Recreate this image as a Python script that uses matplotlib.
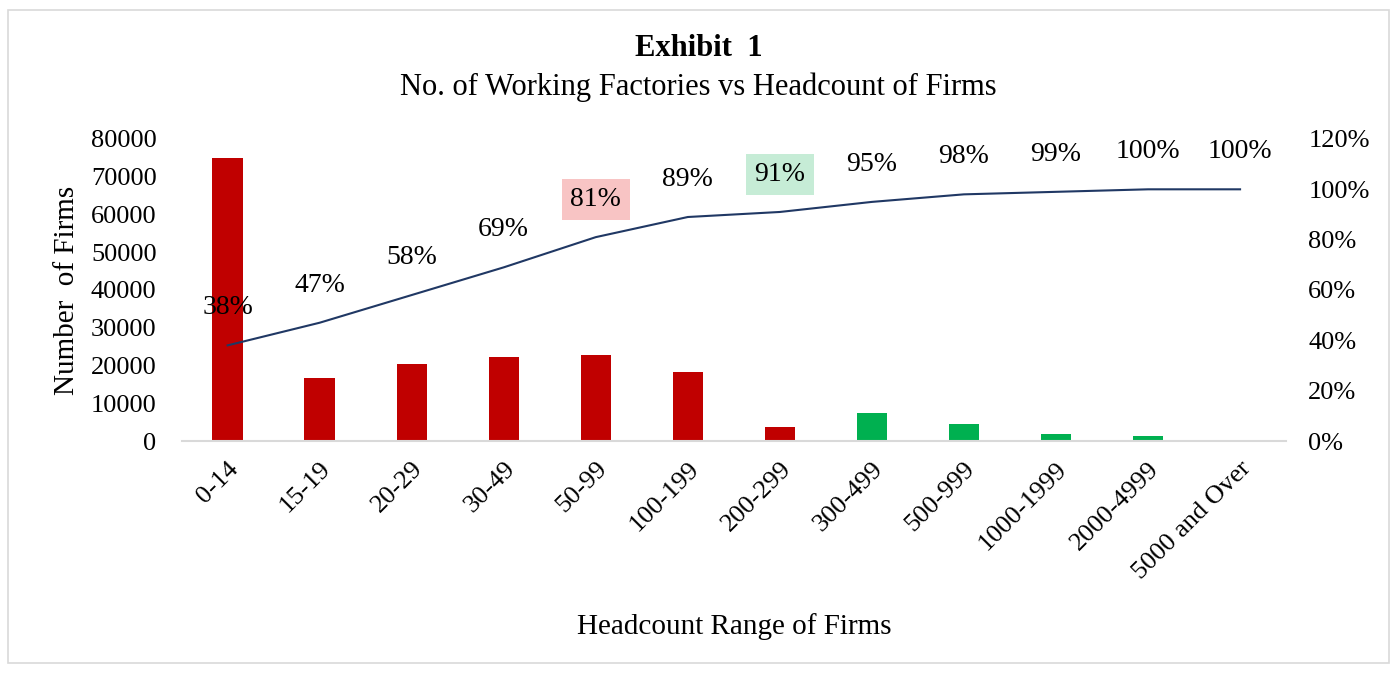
import matplotlib.pyplot as plt
from matplotlib.patches import Rectangle

categories = ['0-14', '15-19', '20-29', '30-49', '50-99', '100-199', '200-299',
              '300-499', '500-999', '1000-1999', '2000-4999', '5000 and Over']
firms = [75000, 16600, 20400, 22200, 22800, 18400, 3700, 7400, 4400, 1900, 1250, 300]
cum_pct = [38, 47, 58, 69, 81, 89, 91, 95, 98, 99, 100, 100]
bar_colors = ['#c00000'] * 7 + ['#00b050'] * 5
label_boxes = {4: '#f8c4c4', 6: '#c6ecd6'}

plt.rcParams['font.family'] = ['Liberation Serif', 'DejaVu Serif']

fig = plt.figure(figsize=(13.97, 6.73), dpi=100)
ax = fig.add_axes([0.130, 0.3447, 0.7906, 0.4488])
x = list(range(len(categories)))

ax.bar(x, firms, width=0.33, color=bar_colors)
ax.set_xlim(-0.5, len(categories) - 0.5)
ax.set_ylim(0, 80000)
ax.set_yticks(range(0, 80001, 10000))
ax.set_xticks(x)
ax.set_xticklabels(categories, rotation=45, ha='right', rotation_mode='anchor')
ax.tick_params(axis='both', length=0, labelsize=19)
ax.tick_params(axis='x', pad=12)
ax.tick_params(axis='y', pad=18)
for s in ['top', 'left', 'right']:
    ax.spines[s].set_visible(False)
ax.spines['bottom'].set_color('#d9d9d9')
ax.spines['bottom'].set_linewidth(1.5)
ax.set_ylabel('Number  of Firms', fontsize=21, labelpad=8)
ax.set_xlabel('Headcount Range of Firms', fontsize=21, labelpad=21)

ax2 = ax.twinx()
ax2.plot(x, [v / 100 for v in cum_pct], color='#203864', linewidth=1.5)
ax2.set_ylim(0, 1.2)
ax2.set_yticks([i / 10 for i in range(0, 13, 2)])
ax2.set_yticklabels([f'{i * 10}%' for i in range(0, 13, 2)])
ax2.tick_params(axis='y', length=0, labelsize=19, pad=16)
for s in ['top', 'left', 'right', 'bottom']:
    ax2.spines[s].set_visible(False)

for i, v in enumerate(cum_pct):
    kw = {}
    if i in label_boxes:
        kw['bbox'] = dict(boxstyle='square,pad=0.3', fc=label_boxes[i], ec='none')
    ax2.annotate(f'{v}%', (i, v / 100), xytext=(0, 27), textcoords='offset points',
                 ha='center', va='center', fontsize=20, **kw)

fig.text(0.5, 0.928, 'Exhibit  1', ha='center', va='center', fontsize=22, fontweight='bold')
fig.text(0.5, 0.871, 'No. of Working Factories vs Headcount of Firms', ha='center',
         va='center', fontsize=22)
fig.patches.append(Rectangle((0.006, 0.015), 0.988, 0.97, transform=fig.transFigure,
                             fill=False, ec='#d9d9d9', lw=1.2))

fig.savefig('out.png', dpi=100)
